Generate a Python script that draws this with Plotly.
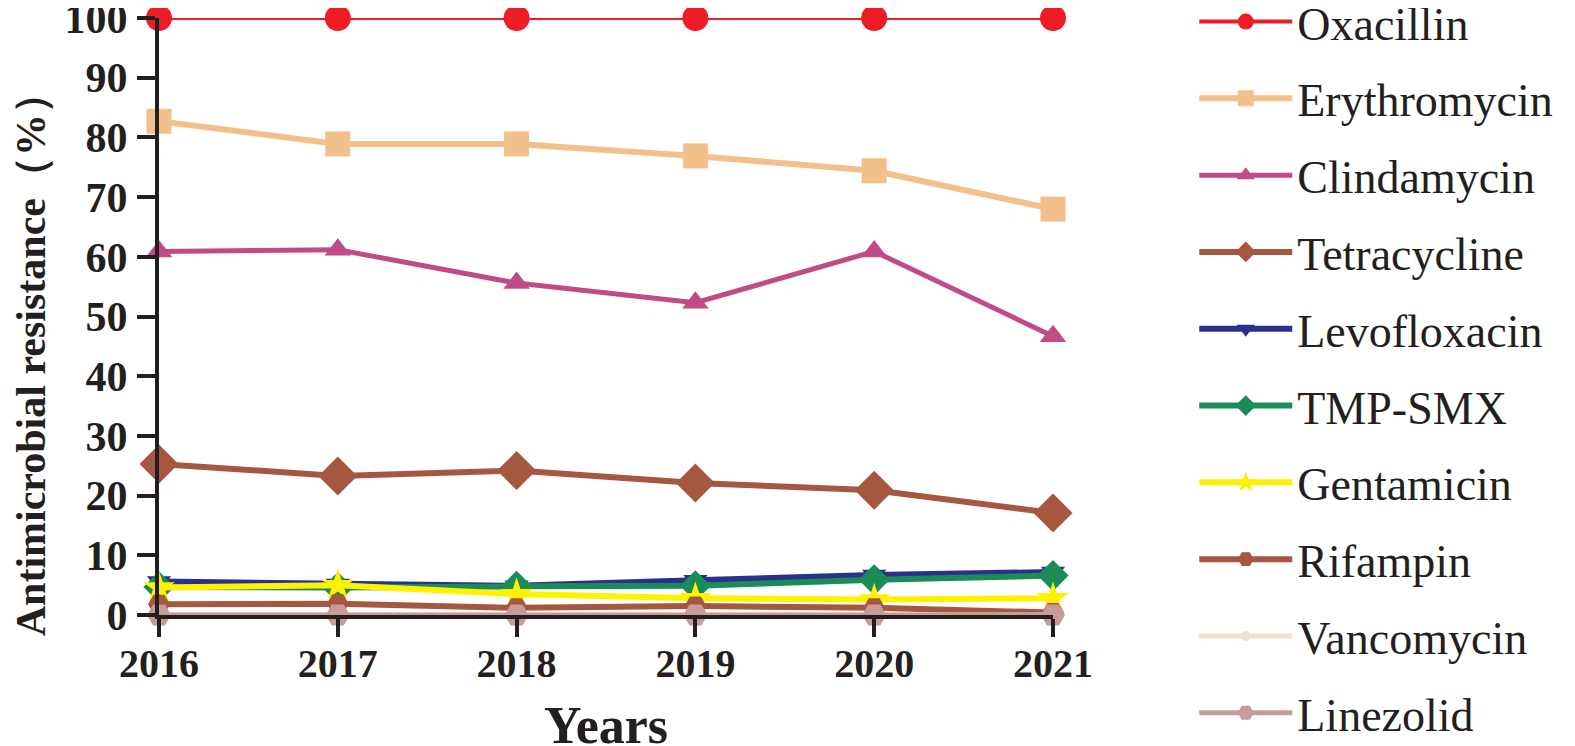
import plotly.graph_objects as go

years = [2016, 2017, 2018, 2019, 2020, 2021]

oxacillin = [100, 100, 100, 100, 100, 100]
erythromycin = [82.7, 78.9, 78.9, 76.9, 74.4, 68.0]
clindamycin = [60.9, 61.2, 55.6, 52.3, 60.9, 46.7]
tetracycline = [25.3, 23.3, 24.2, 22.1, 20.9, 17.1]
levofloxacin = [5.6, 5.2, 4.9, 5.8, 6.7, 7.2]
tmp_smx = [4.7, 4.6, 4.8, 4.9, 5.9, 6.6]
gentamicin = [4.6, 5.0, 3.5, 2.8, 2.6, 2.8]
rifampin = [1.8, 1.9, 1.2, 1.5, 1.2, 0.4]
vancomycin = [0, 0, 0, 0, 0, 0]
linezolid = [0, 0, 0, 0, 0, 0]

series = [
    ("Oxacillin", oxacillin, "#EE1C25", "circle", 26, 4),
    ("Erythromycin", erythromycin, "#F2C18B", "square", 25, 6),
    ("Clindamycin", clindamycin, "#C04B87", "triangle-up", 23, 5),
    ("Tetracycline", tetracycline, "#A65740", "diamond", 30, 6),
    ("Levofloxacin", levofloxacin, "#2B2F8E", "triangle-down", 21, 6),
    ("TMP-SMX", tmp_smx, "#1B8C57", "diamond", 24, 6),
    ("Gentamicin", gentamicin, "#FFF200", "star", 24, 6),
    ("Rifampin", rifampin, "#A65740", "hexagon2", 22, 6),
    ("Vancomycin", vancomycin, "#EDE3D1", "circle", 10, 5),
    ("Linezolid", linezolid, "#C89B9B", "hexagon2", 24, 5),
]

fig = go.Figure()
for name, vals, col, sym, sz, lw in series:
    fig.add_trace(go.Scatter(
        x=years, y=vals, name=name, mode="lines+markers",
        line=dict(color=col, width=lw),
        marker=dict(symbol=sym, size=sz, color=col),
        cliponaxis=False, legendgroup=name,
    ))

serif = "Liberation Serif"
ink = "#231F20"
fig.update_layout(
    width=1575, height=746,
    margin=dict(l=151, r=530, t=10, b=139, autoexpand=False),
    plot_bgcolor="white", paper_bgcolor="white",
    font=dict(family=serif, color=ink),
    legend=dict(
        x=1.158, y=1.055, xanchor="left", yanchor="top",
        font=dict(family=serif, size=46, color=ink),
        tracegroupgap=14, itemwidth=93, maxheight=820,
    ),
)
# y title placed as annotation: it sits a little below the axis centre in the reference
fig.add_annotation(
    text="Antimicrobial resistance（%）", textangle=-90,
    xref="paper", yref="paper", x=-0.143, y=0.437,
    xanchor="center", yanchor="middle", showarrow=False,
    font=dict(family=serif, size=42, weight="bold", color=ink),
)
fig.update_xaxes(
    range=[2016, 2021], tickvals=years, showgrid=False, zeroline=False,
    showline=True, linewidth=4, linecolor=ink, automargin=False,
    ticks="outside", ticklen=18, tickwidth=4, tickcolor=ink,
    tickfont=dict(family=serif, size=40, weight="bold"),
    ticklabeloverflow="allow", ticklabelstandoff=-8,
    title=dict(text="Years", font=dict(family=serif, size=52, weight="bold"), standoff=24),
)
fig.update_yaxes(
    range=[0, 100], tickvals=list(range(0, 101, 10)), showgrid=False, zeroline=False,
    showline=True, linewidth=4, linecolor=ink, automargin=False,
    ticks="outside", ticklen=18, tickwidth=4, tickcolor=ink,
    tickfont=dict(family=serif, size=42, weight="bold"),
    ticklabeloverflow="allow", ticklabelstandoff=1,
)

fig.write_html("out.html")
